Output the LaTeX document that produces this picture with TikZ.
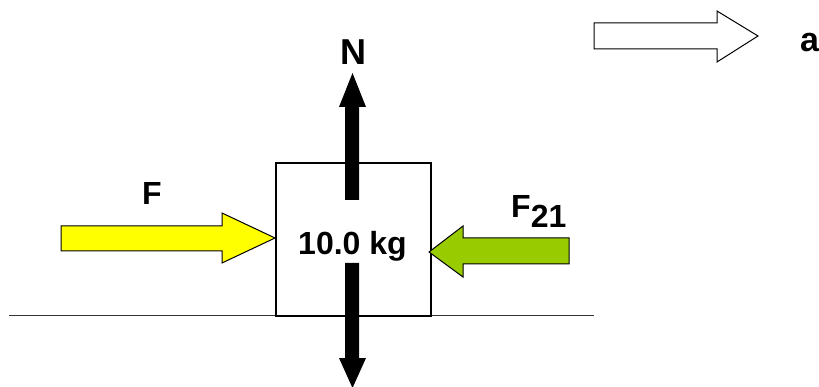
\documentclass[tikz,border=0pt]{standalone}
\usepackage{fontspec}
\setmainfont{Liberation Sans}
\definecolor{fyellow}{HTML}{FFFF00}
\definecolor{fgreen}{HTML}{99CC00}
\begin{document}
\begin{tikzpicture}[x=1pt,y=-1pt,
  lbl/.style={font=\fontsize{32}{32}\selectfont\bfseries, inner sep=0pt, anchor=base},
  fatarrow/.style={draw=black, line width=1pt, line join=miter},
  blackarrow/.style={fill=black, draw=none}]
\useasboundingbox (0,0) rectangle (819,387);
% ground
\draw[line width=1.4pt, black!80] (9,315.5) coordinate (g1) -- (594,315.5) coordinate (g2);
% block
\node[draw, line width=1.2pt, fill=white, minimum width=155pt, minimum height=153pt, inner sep=0pt] (box) at (353.5,239.5) {};
\node[lbl] (mass) at (352.5,255) {10.0 kg};
% normal force
\fill[blackarrow] (345,200) -- (345,107) -- (339,107) -- (352.5,73) -- (366,107) -- (359,107) -- (359,200) -- cycle;
\node[lbl, font=\fontsize{36}{36}\selectfont\bfseries] (N) at (353,65) {N};
% weight
\fill[blackarrow] (345,263) -- (345,358) -- (339,358) -- (352.5,388) -- (366,358) -- (359,358) -- (359,263) -- cycle;
% applied force F
\filldraw[fatarrow, fill=fyellow] (61,226) -- (222,226) -- (222,213) -- (275,238) -- (222,263) -- (222,251) -- (61,251) -- cycle;
\node[lbl] (F) at (152,205) {F};
% F21
\filldraw[fatarrow, fill=fgreen] (569,238) -- (463,238) -- (463,226) -- (429,252) -- (463,277) -- (463,264) -- (569,264) -- cycle;
\node[lbl, anchor=base west] (F21) at (511,218) {F\lower10pt\hbox{21}};
% acceleration
\draw[fatarrow, fill=white] (594,23) -- (717,23) -- (717,11) -- (758,36) -- (717,62) -- (717,49) -- (594,49) -- cycle;
\node[lbl, anchor=base west, font=\fontsize{34}{34}\selectfont\bfseries] (a) at (800,52) {a};
\end{tikzpicture}
\end{document}
